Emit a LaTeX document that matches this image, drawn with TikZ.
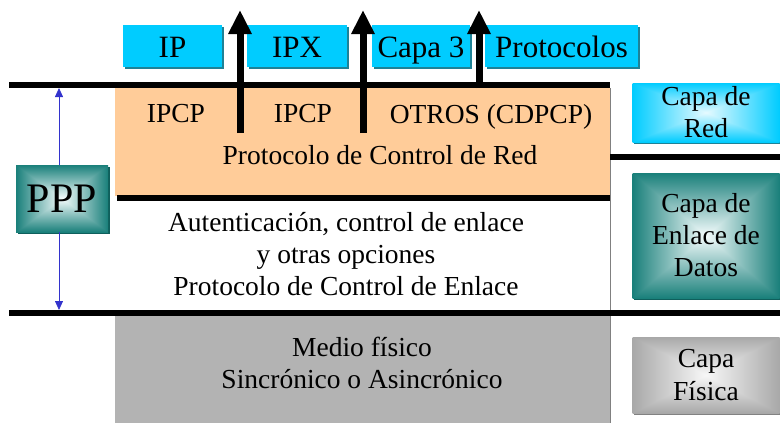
\documentclass[tikz,border=0pt]{standalone}
\usepackage{fontspec}
\setmainfont{Liberation Serif}
\usetikzlibrary{arrows.meta}
\usetikzlibrary{shadows}

\definecolor{cyanbox}{RGB}{0,204,255}
\definecolor{cyanshadow}{RGB}{30,130,150}
\definecolor{tealdark}{RGB}{15,95,92}
\definecolor{grayedge}{RGB}{130,130,130}
\definecolor{orangeprot}{RGB}{255,204,153}
\definecolor{grayfis}{RGB}{179,179,179}
\definecolor{pppblue}{RGB}{51,51,204}

% rectangular gradients, light in the middle
\pgfdeclarefunctionalshading{redshade}{\pgfpointorigin}{\pgfpoint{100bp}{100bp}}{}{%
  50 sub abs exch 50 sub abs 2 copy lt {exch} if pop
  25 div dup 1 gt {pop 1} if
  dup -0.90 mul 0.90 add exch
  dup -0.18 mul 0.98 add exch
  pop 1.0
}
\pgfdeclarefunctionalshading{enlaceshade}{\pgfpointorigin}{\pgfpoint{100bp}{100bp}}{}{%
  50 sub abs exch 50 sub abs 2 copy lt {exch} if pop
  25 div dup 1 gt {pop 1} if
  dup -0.86 mul 0.96 add exch
  dup -0.49 mul 0.99 add exch
  -0.51 mul 0.99 add
}
\pgfdeclarefunctionalshading{fisicashade}{\pgfpointorigin}{\pgfpoint{100bp}{100bp}}{}{%
  50 sub abs exch 50 sub abs 2 copy lt {exch} if pop
  25 div dup 1 gt {pop 1} if
  -0.31 mul 0.97 add dup dup
}

\tikzset{
  txt/.style={font=\fontsize{27.5}{32}\selectfont, align=center, inner sep=0pt},
  topbox/.style={fill=cyanbox, font=\fontsize{31}{36}\selectfont, minimum height=42pt,
    text height=24pt, text depth=2pt, inner sep=0pt,
    drop shadow={shadow xshift=2pt, shadow yshift=-2pt, fill=cyanshadow, opacity=1}},
  layerbox/.style={txt, minimum width=147pt, shade, shading=#1},
  layerline/.style={line width=6pt},
  uparrow/.style={line width=7pt, -{Triangle[width=22pt,length=24pt]}},
  pppline/.style={pppblue, line width=0.8pt, -{Triangle[width=8pt,length=9pt]}},
}

\begin{document}
\begin{tikzpicture}[x=1pt,y=-1pt]
\useasboundingbox (0,0) rectangle (780,423);

% capas del PPP
\fill[orangeprot] (115,88) rectangle (610,196);
\fill[grayfis] (115,316) rectangle (610,423);
\draw[gray, line width=0.8pt] (610,88) -- (610,423);

\draw[layerline] (9,85) -- (610,85);
\draw[layerline] (610,157) -- (780,157);
\draw[layerline] (117,198) -- (610,198);
\draw[layerline] (9,313) -- (780,313);

% protocolos de capa 3
\node[topbox, minimum width=99pt] (ip) at (172.5,46) {IP};
\node[topbox, minimum width=100pt] (ipx) at (297,46) {IPX};
\node[topbox, minimum width=98pt] (capa3) at (421,46) {Capa 3};
\node[topbox, minimum width=153pt] (protocolos) at (561.5,46) {Protocolos};

\coordinate (s1) at (240,133); \coordinate (t1) at (240,10);
\coordinate (s2) at (363,133); \coordinate (t2) at (363,10);
\coordinate (s3) at (479,88); \coordinate (t3) at (479,10);
\draw[uparrow] (s1) -- (t1);
\draw[uparrow] (s2) -- (t2);
\draw[uparrow] (s3) -- (t3);

\node[txt, anchor=base] (ipcp1) at (176,122) {IPCP};
\node[txt, anchor=base] (ipcp2) at (303,122) {IPCP};
\node[txt, anchor=base] (otros) at (491,123) {OTROS (CDPCP)};
\node[txt, anchor=base] (ncp) at (380,164) {Protocolo de Control de Red};

\node[txt] (lcp) at (346,254.5) {Autenticación, control de enlace\\y otras opciones\\Protocolo de Control de Enlace};
\node[txt] (medio) at (362,363) {Medio físico\\Sincrónico o Asincrónico};

% capas de referencia
\node[layerbox=redshade, minimum height=59pt, drop shadow={shadow xshift=1.5pt, shadow yshift=-1.5pt, fill=cyanshadow, opacity=1}] (red) at (706,112.5) {Capa de\\Red};
\node[layerbox=enlaceshade, minimum height=125pt, drop shadow={shadow xshift=1.5pt, shadow yshift=-1.5pt, fill=tealdark, opacity=1}] (enlace) at (706,235.5) {Capa de\\Enlace de\\Datos};
\node[layerbox=fisicashade, minimum height=76pt, drop shadow={shadow xshift=1.5pt, shadow yshift=-1.5pt, fill=grayedge, opacity=1}] (fisica) at (706,375) {Capa\\[1pt]Física};

\node[layerbox=enlaceshade, minimum width=92pt, minimum height=67pt, font=\fontsize{42}{46}\selectfont,
  drop shadow={shadow xshift=1.5pt, shadow yshift=-1.5pt, fill=tealdark, opacity=1}] (ppp) at (62,198.5) {PPP};
\coordinate (ppptop) at (59,88);
\coordinate (pppbot) at (59,310);
\draw[pppline] (ppptop |- ppp.north) -- (ppptop);
\draw[pppline] (pppbot |- ppp.south) -- (pppbot);
\end{tikzpicture}
\end{document}
